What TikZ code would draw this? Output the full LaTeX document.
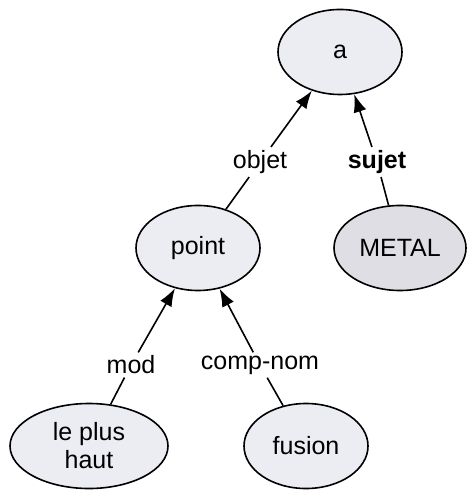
\documentclass[tikz,border=0pt]{standalone}
\usepackage{fontspec}
\setsansfont{Liberation Sans}
\usetikzlibrary{shapes.geometric, arrows.meta}
\definecolor{wordfill}{RGB}{236,236,243}
\definecolor{subjfill}{RGB}{222,222,228}

\begin{document}
\begin{tikzpicture}[
    x=0.5pt, y=-0.5pt,
    font=\sffamily\fontsize{12.5}{14}\selectfont,
    word/.style={ellipse, draw=black, line width=0.8pt, fill=wordfill, minimum width=62pt, minimum height=42.5pt, inner sep=0pt, align=center},
    rel/.style={inner sep=1.5pt},
    link/.style={line width=0.8pt, draw=black},
    arr/.style={link, -{Latex[length=9pt, width=6.5pt]}}
]
\useasboundingbox (0,0) rectangle (471,490);

% 1. Word Nodes
\node[word] (a) at (340,52) {a};
\node[word] (point) at (198,248) {point};
\node[word, fill=subjfill, minimum width=66pt] (metal) at (400,248) {METAL};
\node[word, minimum width=79pt] (plushaut) at (89,446) {le plus\\haut};
\node[word] (fusion) at (306,446) {fusion};

% 2. Relation Labels
\node[rel] (objet) at (260,162) {objet};
\node[rel, font=\sffamily\bfseries\fontsize{12.5}{14}\selectfont] (sujet) at (377,162) {sujet};
\node[rel] (mod) at (131,365) {mod};
\node[rel] (compnom) at (260,365) {comp-nom};

% -- Dependencies --
\draw[link] (point) -- (objet);
\draw[arr] (objet) -- (a);
\draw[link] (metal) -- (sujet);
\draw[arr] (sujet) -- (a);
\draw[link] (plushaut) -- (mod);
\draw[arr] (mod) -- (point);
\draw[link] (fusion) -- (compnom);
\draw[arr] (compnom) -- (point);

\end{tikzpicture}
\end{document}
